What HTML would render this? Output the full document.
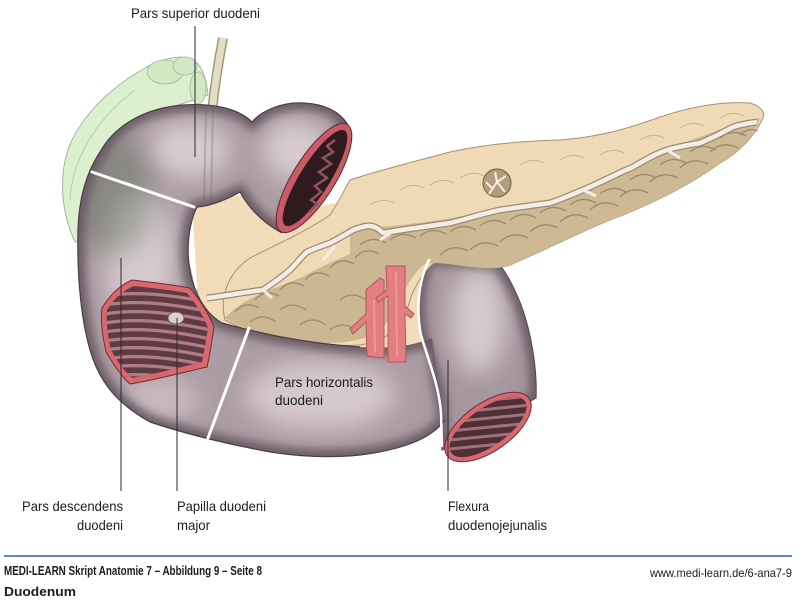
<!DOCTYPE html>
<html><head><meta charset="utf-8"><style>
html,body{margin:0;padding:0;background:#fff;}
svg{display:block;}
text{font-family:"Liberation Sans Narrow","Liberation Sans",sans-serif;fill:#1c1c1c;}
</style></head><body>
<svg width="800" height="609" viewBox="0 0 800 609" xmlns="http://www.w3.org/2000/svg">
<defs>
<filter id="b15" x="-50%" y="-50%" width="200%" height="200%"><feGaussianBlur stdDeviation="12"/></filter>
<filter id="b6" x="-50%" y="-50%" width="200%" height="200%"><feGaussianBlur stdDeviation="5"/></filter>
<clipPath id="cC"><path d="M100,152 C115,125 145,108 183,105 C212,103 238,108 252,122 C262,110 283,102 303,103 C325,104 340,112 348,125 L282,233 C265,224 250,210 240,192 C226,200 210,206 197,207 C188,225 185,255 192,280 C198,300 208,315 222,323 C255,332 300,343 360,347 C395,349 415,345 432,338 L445,420 C430,440 400,450 360,455 C320,459 280,455 250,448 C215,441 180,432 150,422 C120,405 100,385 90,350 C80,315 77,270 78,230 C79,195 88,170 100,152 Z"/></clipPath>
<clipPath id="cF"><path d="M428,258 C418,280 416,310 421,335 C428,360 440,385 441,413 L442,450 L536,398 C537,370 532,335 521,305 C512,282 503,268 497,262 Z"/></clipPath>
<clipPath id="cW"><path d="M107,310 C114,299 122,291 134,286 C152,288 170,290 187,293 C196,304 203,315 208,328 C206,341 204,352 202,362 C178,368 155,374 132,378 C123,370 116,359 111,350 C108,337 106,323 107,310 Z"/></clipPath>
<clipPath id="cE"><ellipse cx="488" cy="427" rx="45" ry="19" transform="rotate(-35 488 427)"/></clipPath>
</defs>

<!-- gallbladder -->
<path d="M75,242 C60,210 58,170 72,140 C88,108 115,85 145,68 C160,60 175,55 190,58 C200,62 206,75 208,95 C195,100 175,105 160,112 C135,125 105,150 92,175 C84,195 82,220 85,242 Z" fill="#dcefcf" stroke="#a4b89c" stroke-width="1"/>
<path d="M70,200 C72,160 95,120 135,90" fill="none" stroke="#b9cbb0" stroke-width="1"/>
<ellipse cx="165" cy="72" rx="18" ry="12" fill="#d2e8c3" stroke="#a4b89c" stroke-width="0.8"/>
<ellipse cx="185" cy="66" rx="12" ry="9" fill="#d2e8c3" stroke="#a4b89c" stroke-width="0.8"/>
<ellipse cx="198" cy="88" rx="8" ry="16" fill="#d2e8c3" stroke="#a4b89c" stroke-width="0.8"/>

<!-- bile duct -->
<path d="M223,38 C215,80 208,130 206,200 C204,250 207,280 199,302" fill="none" stroke="#9d9a80" stroke-width="10"/>
<path d="M223,38 C215,80 208,130 206,200 C204,250 207,280 199,302" fill="none" stroke="#e6dcc2" stroke-width="7"/>

<!-- pancreas head background -->
<path d="M192,205 L240,195 L290,212 L350,200 L430,252 L442,300 L430,342 L360,350 L250,334 L215,322 L198,300 Z" fill="#f2dcba"/>
<path d="M186,250 C192,275 195,300 205,318" fill="none" stroke="#a7a385" stroke-width="1.5"/>

<!-- flexura -->
<path d="M428,258 C418,280 416,310 421,335 C428,360 440,385 441,413 L442,450 L536,398 C537,370 532,335 521,305 C512,282 503,268 497,262 Z" fill="#a6969e" stroke="#4e424a" stroke-width="1.2"/>
<g clip-path="url(#cF)">
<ellipse cx="478" cy="320" rx="28" ry="55" fill="#d6c9cf" filter="url(#b15)"/>
<path d="M428,258 C418,280 416,310 421,335 C428,360 440,385 441,413 L442,450 L536,398 C537,370 532,335 521,305 C512,282 503,268 497,262 Z" fill="none" stroke="#64555e" stroke-width="12" filter="url(#b6)"/>
</g>

<!-- pancreas -->
<path d="M225,320 C220,300 225,275 250,258 C275,245 300,235 330,215 C340,200 345,188 350,180 C380,170 420,160 450,152 C490,143 530,141 560,140 C600,137 630,128 660,117 C690,107 720,101 750,103 C760,106 766,112 763,118 C755,135 740,152 720,163 C690,185 650,205 610,220 C580,232 545,250 510,265 C490,272 460,265 435,262 C425,270 415,285 410,300 C405,320 395,340 360,345 C320,347 280,343 250,332 Z" fill="#f0dab6" stroke="#a8906c" stroke-width="1"/>
<path d="M350,228 C400,228 450,218 500,210 C560,200 600,185 640,163 C680,143 720,128 760,118 C755,135 740,152 720,163 C690,185 650,205 610,220 C580,232 545,250 510,265 C490,272 460,265 435,262 C410,262 380,262 350,263 Z" fill="#cdb993"/>
<path d="M225,318 C240,300 270,290 300,278 C330,262 360,248 400,238 C430,232 445,228 460,226 L470,266 C450,264 435,262 425,264 C410,275 400,300 385,325 C370,342 340,345 300,342 C270,338 245,330 225,318 Z" fill="#cbb893"/>
<path d="M440,255 q12,-12 28,-4 M470,250 q12,-12 28,-4 M500,242 q12,-12 28,-4 M530,232 q12,-12 28,-4 M560,222 q12,-12 28,-4 M590,210 q12,-12 28,-4 M620,197 q12,-12 28,-4 M650,182 q12,-12 28,-4 M680,168 q12,-12 28,-4 M710,152 q12,-12 28,-4 M740,135 q8,-8 18,-4 M360,245 q12,-10 26,-2 M390,240 q12,-10 26,-2 M420,236 q12,-10 26,-2 M450,232 q12,-10 26,-2 M480,226 q12,-10 26,-2 M510,220 q12,-10 26,-2 M540,213 q12,-10 26,-2 M570,205 q12,-10 26,-2 M600,194 q12,-10 26,-2 M630,180 q12,-10 26,-2 M660,165 q12,-10 26,-2 M690,152 q12,-10 26,-2 M720,138 q12,-10 26,-2 M235,312 q10,-12 24,-4 M255,300 q10,-12 24,-4 M280,290 q10,-12 24,-4 M305,280 q10,-12 24,-4 M330,268 q10,-12 24,-4 M355,258 q10,-12 24,-4 M300,325 q12,-10 26,0 M330,330 q12,-10 26,0 M250,322 q12,-10 26,0 M340,300 q12,-10 26,0 M280,310 q12,-10 26,0" fill="none" stroke="#8e7b5f" stroke-width="1.3" opacity="0.75"/>
<path d="M400,190 q12,-8 24,-2 M430,185 q12,-8 24,-2 M460,178 q12,-8 24,-2 M520,165 q12,-8 24,-2 M560,160 q12,-8 24,-2 M600,155 q12,-8 24,-2 M640,140 q12,-8 24,-2 M680,128 q12,-8 24,-2 M720,118 q12,-8 24,-2 M370,205 q12,-8 24,-2" fill="none" stroke="#b7a07c" stroke-width="1" opacity="0.7"/>
<path d="M207,298 C225,296 245,292 263,290 C275,282 283,276 290,270 C298,262 302,256 307,252 C315,248 322,246 330,243 C340,238 348,233 353,230 C365,226 372,222 383,233 C400,230 430,226 450,223 C470,218 485,213 500,210 C520,207 535,205 550,203 C565,198 575,193 583,190 C600,183 618,173 633,167 C645,160 655,154 667,150 C680,146 690,145 700,143 C715,137 725,131 733,127 C742,124 750,123 757,122" fill="none" stroke="#9a8a78" stroke-width="7"/>
<path d="M207,298 C225,296 245,292 263,290 C275,282 283,276 290,270 C298,262 302,256 307,252 C315,248 322,246 330,243 C340,238 348,233 353,230 C365,226 372,222 383,233 C400,230 430,226 450,223 C470,218 485,213 500,210 C520,207 535,205 550,203 C565,198 575,193 583,190 C600,183 618,173 633,167 C645,160 655,154 667,150 C680,146 690,145 700,143 C715,137 725,131 733,127 C742,124 750,123 757,122" fill="none" stroke="#f4ede4" stroke-width="4.5"/>
<path d="M323,260 L335,246 M380,240 L392,232 M583,190 L596,196 M667,150 L680,158 M263,290 L272,298" stroke="#f4ede4" stroke-width="3" fill="none"/>
<circle cx="497" cy="183" r="14" fill="#b29d7b" stroke="#6d5c48" stroke-width="1"/>
<path d="M489,194 L497,182 L505,192 M497,182 L495,172 M497,182 L506,176 M492,188 L486,182" stroke="#f4ede4" stroke-width="2" fill="none"/>

<!-- duodenum C -->
<path d="M100,152 C115,125 145,108 183,105 C212,103 238,108 252,122 C262,110 283,102 303,103 C325,104 340,112 348,125 L282,233 C265,224 250,210 240,192 C226,200 210,206 197,207 C188,225 185,255 192,280 C198,300 208,315 222,323 C255,332 300,343 360,347 C395,349 415,345 432,338 L445,420 C430,440 400,450 360,455 C320,459 280,455 250,448 C215,441 180,432 150,422 C120,405 100,385 90,350 C80,315 77,270 78,230 C79,195 88,170 100,152 Z" fill="#ac9ca3"/>
<g clip-path="url(#cC)">
<ellipse cx="140" cy="260" rx="35" ry="70" fill="#d6c9cf" filter="url(#b15)"/>
<ellipse cx="190" cy="150" rx="40" ry="28" fill="#d8ccd2" filter="url(#b15)"/>
<ellipse cx="295" cy="150" rx="32" ry="30" fill="#d8ccd2" filter="url(#b15)"/>
<ellipse cx="320" cy="395" rx="75" ry="35" fill="#d5c8ce" filter="url(#b15)"/>
<ellipse cx="160" cy="400" rx="40" ry="22" fill="#c9bbc1" filter="url(#b15)"/>
<ellipse cx="112" cy="195" rx="42" ry="60" fill="#4a6248" opacity="0.35" filter="url(#b15)"/>
<path d="M75,242 C60,210 58,170 72,140 C88,108 115,85 145,68" fill="none" stroke="#c6d8bb" stroke-width="2" opacity="0.5"/>
<path d="M206,110 L204,200 M213,110 L211,200" stroke="#6f7a62" stroke-width="2" opacity="0.35"/>
<path d="M100,152 C115,125 145,108 183,105 C212,103 238,108 252,122 C262,110 283,102 303,103 C325,104 340,112 348,125 L282,233 C265,224 250,210 240,192 C226,200 210,206 197,207 C188,225 185,255 192,280 C198,300 208,315 222,323 C255,332 300,343 360,347 C395,349 415,345 432,338 L445,420 C430,440 400,450 360,455 C320,459 280,455 250,448 C215,441 180,432 150,422 C120,405 100,385 90,350 C80,315 77,270 78,230 C79,195 88,170 100,152 Z" fill="none" stroke="#64555e" stroke-width="13" filter="url(#b6)"/>
</g>
<path d="M100,152 C115,125 145,108 183,105 C212,103 238,108 252,122 C262,110 283,102 303,103 C325,104 340,112 348,125 M282,233 C265,224 250,210 240,192 C226,200 210,206 197,207 C188,225 185,255 192,280 C198,300 208,315 222,323 C255,332 300,343 360,347 M445,420 C430,440 400,450 360,455 C320,459 280,455 250,448 C215,441 180,432 150,422 C120,405 100,385 90,350 C80,315 77,270 78,230 C79,195 88,170 100,152" fill="none" stroke="#4a3e45" stroke-width="1.2"/>

<!-- vessels -->
<g fill="#e37f82" stroke="#b5545c" stroke-width="1">
<path d="M366,290 L380,278 L384,280 L384,358 L367,356 L366,322 L353,334 L350,329 L366,314 Z"/>
<path d="M386,266 L405,266 L405,306 L414,314 L411,318 L405,314 L406,362 L388,362 L388,296 L378,302 L376,298 L387,290 Z"/>
</g>
<path d="M374,300 L375,352 M396,272 L397,356" stroke="#f2a4a4" stroke-width="2" opacity="0.7"/>

<!-- bulb opening -->
<ellipse cx="314" cy="178" rx="63" ry="21" transform="rotate(-58 314 178)" fill="#c95a66" stroke="#5a2a30" stroke-width="1"/>
<ellipse cx="315" cy="178" rx="56" ry="15" transform="rotate(-58 315 178)" fill="#2e1a1f"/>
<path d="M335,140 l-8,6 l6,6 l-10,6 l8,6 l-12,8 l8,6 l-12,8 l6,6 l-10,8 l6,4 l-8,8" fill="none" stroke="#8a5560" stroke-width="2.5"/>

<!-- descending window -->
<path d="M102,308 C110,295 120,285 132,280 C150,282 170,284 190,288 C200,300 208,312 214,327 C212,340 210,355 207,367 C180,373 155,380 130,384 C120,375 112,362 106,352 C103,338 100,322 102,308 Z" fill="#d9676c" stroke="#6a3038" stroke-width="1"/>
<path d="M107,310 C114,299 122,291 134,286 C152,288 170,290 187,293 C196,304 203,315 208,328 C206,341 204,352 202,362 C178,368 155,374 132,378 C123,370 116,359 111,350 C108,337 106,323 107,310 Z" fill="#5e3a42"/>
<g clip-path="url(#cW)" stroke="#b07c86" stroke-width="3.2" fill="none">
<path d="M105,296 C140,290 180,296 215,304 M105,305 C140,299 180,305 215,313 M105,314 C140,308 180,314 215,322 M105,323 C140,317 180,323 215,331 M105,332 C140,326 180,332 215,340 M105,341 C140,335 180,341 215,349 M105,350 C140,344 180,350 215,358 M105,359 C140,353 180,359 215,367 M105,368 C140,362 180,368 215,376 M105,377 C140,371 180,377 215,385"/>
</g>
<ellipse cx="176" cy="318" rx="8" ry="6" fill="#dcd0d4" stroke="#6e5a60" stroke-width="1"/>

<!-- flexura opening -->
<ellipse cx="488" cy="427" rx="50" ry="24" transform="rotate(-35 488 427)" fill="#d9676c" stroke="#6a3038" stroke-width="1"/>
<ellipse cx="488" cy="427" rx="45" ry="19" transform="rotate(-35 488 427)" fill="#4e3036"/>
<g clip-path="url(#cE)" stroke="#a27078" stroke-width="3" fill="none">
<path d="M440,405 L540,395 M440,414 L540,404 M440,423 L540,413 M440,432 L540,422 M440,441 L540,431 M440,450 L540,440"/>
</g>

<!-- white boundary lines -->
<g stroke="#fff" fill="none" stroke-linecap="round">
<path d="M92,172 L194,207" stroke-width="3"/>
<path d="M249,328 L208,438" stroke-width="3"/>
<path d="M429,260 C418,282 416,310 421,335 C428,360 439,385 441,413 L442,446" stroke-width="2.5"/>
</g>

<!-- leaders -->
<g stroke="#2a2a2a" stroke-width="1">
<path d="M195,26 L195,157"/>
<path d="M121,258 L121,491"/>
<path d="M177,318 L177,491"/>
<path d="M448,360 L448,491"/>
</g>

<!-- labels -->
<g font-size="14">
<text x="131" y="18" textLength="129" lengthAdjust="spacingAndGlyphs">Pars superior duodeni</text>
<text x="22" y="511" textLength="101" lengthAdjust="spacingAndGlyphs">Pars descendens</text>
<text x="77" y="530" textLength="46" lengthAdjust="spacingAndGlyphs">duodeni</text>
<text x="177" y="511" textLength="89" lengthAdjust="spacingAndGlyphs">Papilla duodeni</text>
<text x="177" y="530" textLength="33" lengthAdjust="spacingAndGlyphs">major</text>
<text x="448" y="511" textLength="41" lengthAdjust="spacingAndGlyphs">Flexura</text>
<text x="448" y="530" textLength="99" lengthAdjust="spacingAndGlyphs">duodenojejunalis</text>
<text x="275" y="387" textLength="98" lengthAdjust="spacingAndGlyphs">Pars horizontalis</text>
<text x="275" y="405" textLength="48" lengthAdjust="spacingAndGlyphs">duodeni</text>
</g>

<!-- footer -->
<line x1="4" y1="556" x2="792" y2="556" stroke="#2d5fa8" stroke-width="1.6"/>
<text x="4" y="575" font-size="13" font-weight="bold" textLength="258" lengthAdjust="spacingAndGlyphs">MEDI-LEARN Skript Anatomie 7 – Abbildung 9 – Seite 8</text>
<text x="650" y="577" font-size="12" textLength="142" lengthAdjust="spacingAndGlyphs">www.medi-learn.de/6-ana7-9</text>
<text x="4" y="596" font-size="13" font-weight="bold" textLength="72" lengthAdjust="spacingAndGlyphs">Duodenum</text>
</svg>
</body></html>
